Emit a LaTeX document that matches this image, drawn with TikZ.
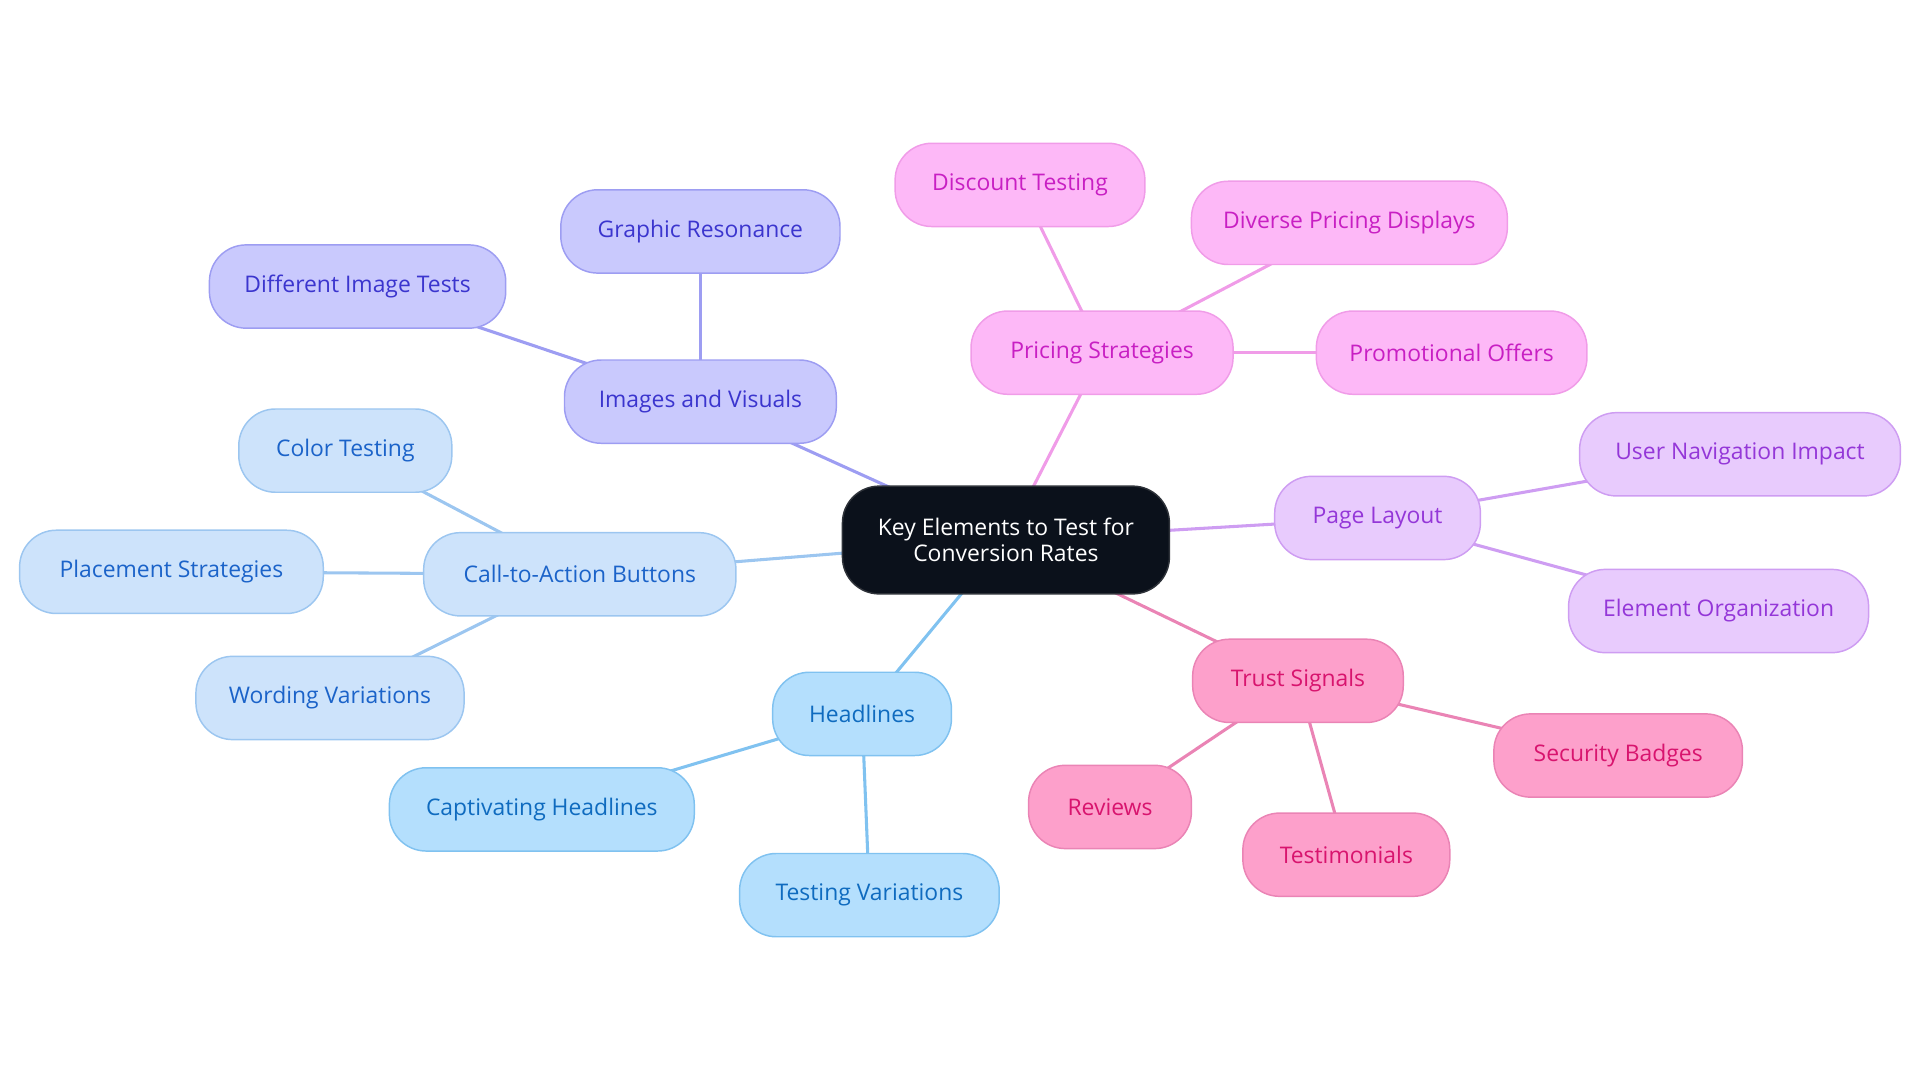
\documentclass[tikz,border=0pt]{standalone}
\usepackage{fontspec}
\setmainfont{Open Sans}
\usetikzlibrary{positioning,backgrounds}
\definecolor{rootfill}{HTML}{0B111B}
\definecolor{imgfill}{HTML}{C9C9FD}\definecolor{imgline}{HTML}{9D9DF2}\definecolor{imgtext}{HTML}{3B35CE}
\definecolor{prcfill}{HTML}{FDB8F7}\definecolor{prcline}{HTML}{F09CE8}\definecolor{prctext}{HTML}{C81FC3}
\definecolor{pagfill}{HTML}{E8CBFD}\definecolor{pagline}{HTML}{CE9DF2}\definecolor{pagtext}{HTML}{9437D8}
\definecolor{trsfill}{HTML}{FDA0CB}\definecolor{trsline}{HTML}{EA84B5}\definecolor{trstext}{HTML}{D8146E}
\definecolor{hdlfill}{HTML}{B4DFFD}\definecolor{hdlline}{HTML}{80C2F0}\definecolor{hdltext}{HTML}{0F6BBF}
\definecolor{ctafill}{HTML}{CDE3FB}\definecolor{ctaline}{HTML}{9CC6F0}\definecolor{ctatext}{HTML}{1B63C9}
\tikzset{%
	pill/.style={rectangle, rounded corners=30pt, line width=1.2pt, minimum height=68pt, inner xsep=8pt, font=\fontsize{18.7}{21.5}\selectfont},
	rootnode/.style={pill, fill=rootfill, draw=rootfill!70!gray, text=white, minimum height=88pt, align=center},
	imgnode/.style={pill, fill=imgfill, draw=imgline, text=imgtext},
	prcnode/.style={pill, fill=prcfill, draw=prcline, text=prctext},
	pagnode/.style={pill, fill=pagfill, draw=pagline, text=pagtext},
	trsnode/.style={pill, fill=trsfill, draw=trsline, text=trstext},
	hdlnode/.style={pill, fill=hdlfill, draw=hdlline, text=hdltext},
	ctanode/.style={pill, fill=ctafill, draw=ctaline, text=ctatext},
	br/.style={line width=2.5pt}
}
\begin{document}
\begin{tikzpicture}[x=1pt,y=-1pt]
			\useasboundingbox (0,0) rectangle (1568,884);
			\node[rootnode, minimum width=267pt] (root) at (821.5,441) {Key Elements to Test for\\Conversion Rates};
			
			\node[imgnode, minimum width=222pt] (images) at (572,328) {Images and Visuals};
			\node[imgnode, minimum width=228pt] (graphic) at (572,189) {Graphic Resonance};
			\node[imgnode, minimum width=242pt] (diffimg) at (292,234) {Different Image Tests};
			
			\node[prcnode, minimum width=214pt] (pricing) at (900,288) {Pricing Strategies};
			\node[prcnode, minimum width=204pt] (discount) at (833,151) {Discount Testing};
			\node[prcnode, minimum width=258pt] (diverse) at (1102,182) {Diverse Pricing Displays};
			\node[prcnode, minimum width=221pt] (promo) at (1185.5,288) {Promotional Offers};
			
			\node[pagnode, minimum width=168pt] (layout) at (1125,423) {Page Layout};
			\node[pagnode, minimum width=262pt] (usernav) at (1421,371) {User Navigation Impact};
			\node[pagnode, minimum width=245pt] (elemorg) at (1403.5,499) {Element Organization};
			
			\node[trsnode, minimum width=172pt] (trust) at (1060,556) {Trust Signals};
			\node[trsnode, minimum width=203pt] (badges) at (1321.5,617) {Security Badges};
			\node[trsnode, minimum width=133pt] (reviews) at (906.5,659) {Reviews};
			\node[trsnode, minimum width=169pt] (testim) at (1099.5,698) {Testimonials};
			
			\node[hdlnode, minimum width=146pt] (headlines) at (704,583) {Headlines};
			\node[hdlnode, minimum width=249pt] (captiv) at (442.5,661) {Captivating Headlines};
			\node[hdlnode, minimum width=212pt] (testvar) at (710,731) {Testing Variations};
			
			\node[ctanode, minimum width=255pt] (cta) at (473.5,469) {Call-to-Action Buttons};
			\node[ctanode, minimum width=174pt] (color) at (282,368) {Color Testing};
			\node[ctanode, minimum width=248pt] (placement) at (140,467) {Placement Strategies};
			\node[ctanode, minimum width=219pt] (wording) at (269.5,570) {Wording Variations};
			
			\begin{scope}[on background layer]
			\draw[br, imgline] (root.center) -- (images.center);
			\draw[br, imgline] (images.center) -- (graphic.center);
			\draw[br, imgline] (images.center) -- (diffimg.center);
			
			\draw[br, prcline] (root.center) -- (pricing.center);
			\draw[br, prcline] (pricing.center) -- (discount.center);
			\draw[br, prcline] (pricing.center) -- (diverse.center);
			\draw[br, prcline] (pricing.center) -- (promo.center);
			
			\draw[br, pagline] (root.center) -- (layout.center);
			\draw[br, pagline] (layout.center) -- (usernav.center);
			\draw[br, pagline] (layout.center) -- (elemorg.center);
			
			\draw[br, trsline] (root.center) -- (trust.center);
			\draw[br, trsline] (trust.center) -- (badges.center);
			\draw[br, trsline] (trust.center) -- (reviews.center);
			\draw[br, trsline] (trust.center) -- (testim.center);
			
			\draw[br, hdlline] (root.center) -- (headlines.center);
			\draw[br, hdlline] (headlines.center) -- (captiv.center);
			\draw[br, hdlline] (headlines.center) -- (testvar.center);
			
			\draw[br, ctaline] (root.center) -- (cta.center);
			\draw[br, ctaline] (cta.center) -- (color.center);
			\draw[br, ctaline] (cta.center) -- (placement.center);
			\draw[br, ctaline] (cta.center) -- (wording.center);
			\end{scope}
		\end{tikzpicture}
\end{document}
